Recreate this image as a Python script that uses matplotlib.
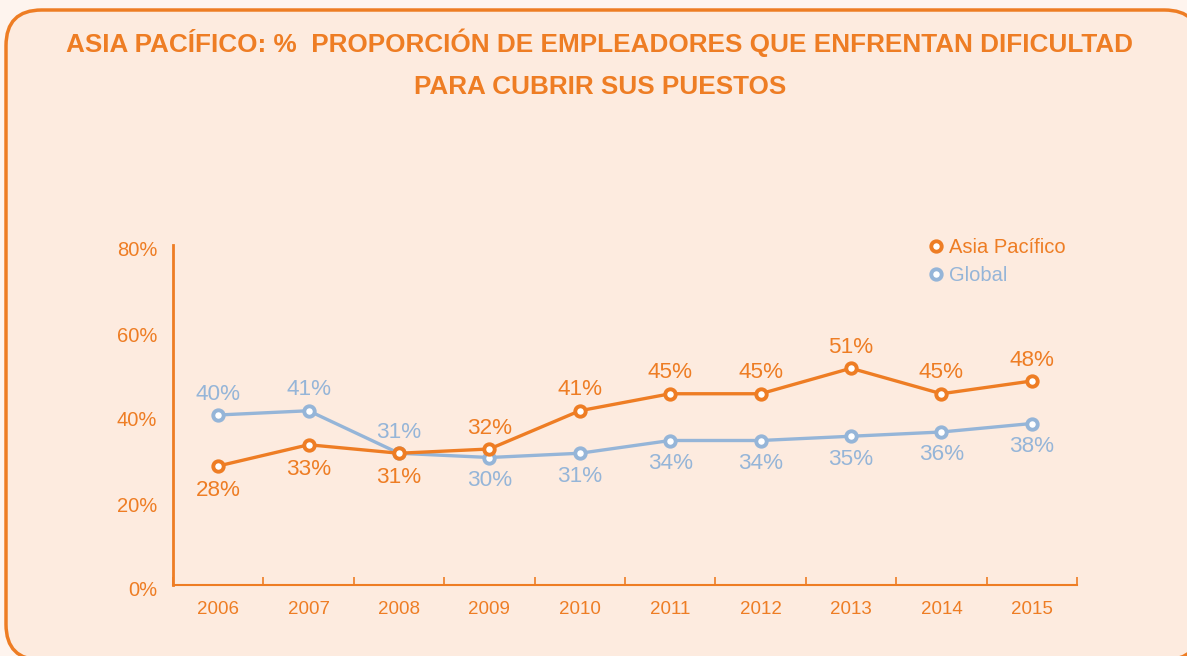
import matplotlib
matplotlib.use("Agg")
import matplotlib.pyplot as plt
import matplotlib.transforms as mtransforms
from matplotlib.patches import FancyBboxPatch

years = ["2006", "2007", "2008", "2009", "2010", "2011", "2012", "2013", "2014", "2015"]
asia = [28, 33, 31, 32, 41, 45, 45, 51, 45, 48]
glob = [40, 41, 31, 30, 31, 34, 34, 35, 36, 38]
asia_label_pos = ["below", "below", "below", "above", "above", "above", "above", "above", "above", "above"]
glob_label_pos = ["above", "above", "above", "below", "below", "below", "below", "below", "below", "below"]
yticks = [0, 20, 40, 60, 80]
title = "ASIA PACÍFICO: %  PROPORCIÓN DE EMPLEADORES QUE ENFRENTAN DIFICULTAD\nPARA CUBRIR SUS PUESTOS"
series_names = ["Asia Pacífico", "Global"]

ORANGE = "#EE7D24"
BLUE = "#95B5D8"
BG = "#FDEBDF"
OUT = "#FEF4EE"

plt.rcParams["font.family"] = ["Liberation Sans", "DejaVu Sans"]

fig = plt.figure(figsize=(11.87, 6.56), dpi=100, facecolor=OUT)
W, H = 1187, 656
box = FancyBboxPatch((6 / W, 1 - 660 / H), (1200 - 6) / W, (660 - 10) / H,
                     boxstyle="round,pad=0,rounding_size=0.03",
                     transform=fig.transFigure, facecolor=BG, edgecolor=ORANGE,
                     linewidth=2.5, zorder=-10, mutation_aspect=W / H)
fig.patches.append(box)

fig.text(600 / W, 1 - 64 / H, title, ha="center", va="center", color=ORANGE,
         fontsize=18.8, fontweight="bold", linespacing=1.95)

ax = fig.add_axes([173 / W, 1 - 585 / H, (1077 - 173) / W, (585 - 245) / H])
ax.set_facecolor("none")
ax.set_zorder(5)
x = list(range(len(years)))

ax.plot(x, glob, color=BLUE, lw=2.4, marker="o", ms=7.5, mew=2.8, mfc="white",
        mec=BLUE, zorder=3, label=series_names[1])
ax.plot(x, asia, color=ORANGE, lw=2.4, marker="o", ms=7.5, mew=2.8, mfc="white",
        mec=ORANGE, zorder=4, label=series_names[0])

for xi, v, p in zip(x, asia, asia_label_pos):
    off = 17.5 if p == "below" else 15
    ax.annotate(f"{v}%", (xi, v), xytext=(0, -off if p == "below" else off),
                textcoords="offset points", ha="center", va="center",
                color=ORANGE, fontsize=16.2)
for xi, v, p in zip(x, glob, glob_label_pos):
    off = 16.5 if p == "below" else 15
    ax.annotate(f"{v}%", (xi, v), xytext=(0, -off if p == "below" else off),
                textcoords="offset points", ha="center", va="center",
                color=BLUE, fontsize=16.2)

ax.set_xlim(-0.5, len(years) - 0.5)
ax.set_ylim(0, 80)
ax.set_yticks(yticks)
ax.set_yticklabels([f"{t}%" for t in yticks])
ax.set_xticks(x)
ax.set_xticklabels(years)
ax.set_xticks([i + 0.5 for i in range(-1, len(years))], minor=True)
ax.tick_params(axis="x", which="major", length=0, pad=11.5, labelsize=13.5, colors=ORANGE)
ax.tick_params(axis="x", which="minor", direction="in", length=6, width=1.2, color=ORANGE)
ax.tick_params(axis="y", length=0, pad=11.5, labelsize=14.5, colors=ORANGE)
shift = mtransforms.ScaledTranslation(0, -4 / 100, fig.dpi_scale_trans)
for lab in ax.get_yticklabels():
    lab.set_transform(lab.get_transform() + shift)
for lab in ax.get_xticklabels() + ax.get_yticklabels():
    lab.set_color(ORANGE)
for s in ["top", "right"]:
    ax.spines[s].set_visible(False)
ax.spines["left"].set_color(ORANGE)
ax.spines["left"].set_linewidth(2)
ax.spines["bottom"].set_color(ORANGE)
ax.spines["bottom"].set_linewidth(1.5)

handles, labels = ax.get_legend_handles_labels()
leg = ax.legend(handles[::-1], labels[::-1], loc="upper left",
                bbox_to_anchor=((928 - 173) / (1077 - 173), 1.045),
                frameon=False, handlelength=0, handletextpad=0.65,
                fontsize=14.5, labelspacing=0.45, borderaxespad=0)
for t, c in zip(leg.get_texts(), [ORANGE, BLUE]):
    t.set_color(c)

fig.savefig("out.png", dpi=100, facecolor=OUT)
